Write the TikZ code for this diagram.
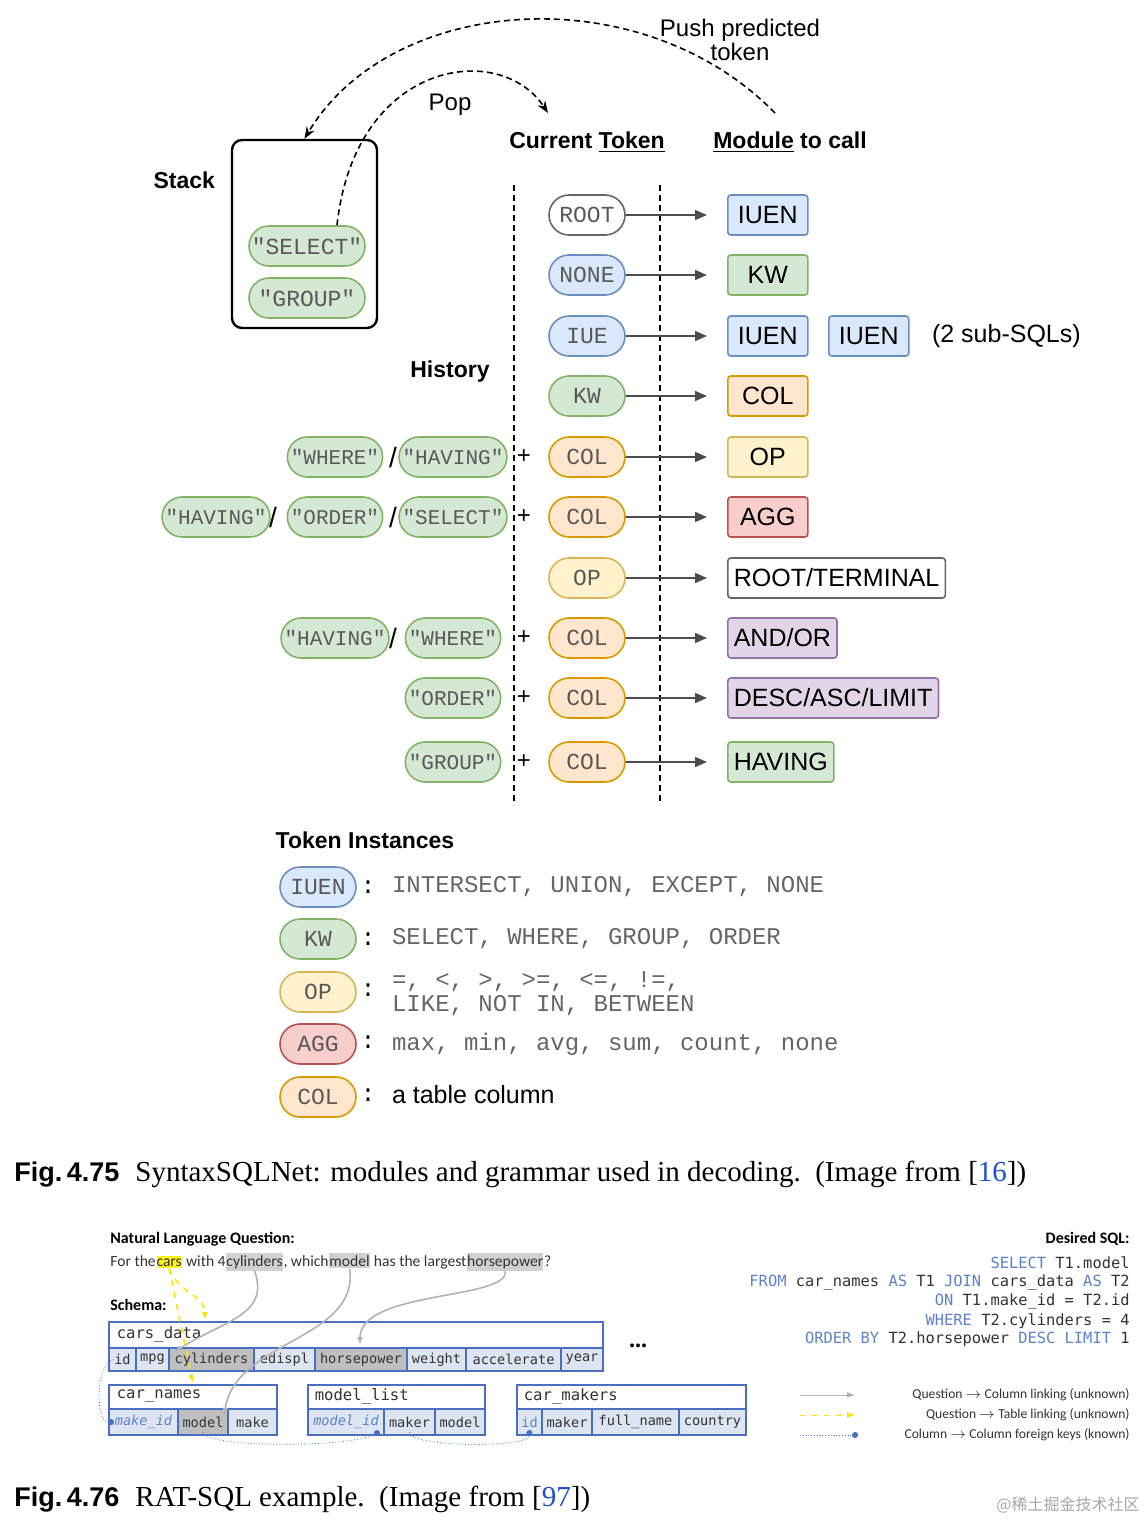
\documentclass[tikz,border=0pt]{standalone}
\usepackage{fontspec}
\setmainfont{Liberation Serif}
\setsansfont{Liberation Sans}
\setmonofont{Liberation Mono}
\newfontfamily\calfont{Carlito}
\newfontfamily\consfont{DejaVu Sans Mono}
\newfontfamily\cjkfont{Noto Sans CJK SC}
\usetikzlibrary{arrows.meta,shapes.misc}
\definecolor{gfill}{HTML}{D5E8D4}\definecolor{gdraw}{HTML}{82B366}
\definecolor{bfill}{HTML}{DAE8FC}\definecolor{bdraw}{HTML}{6C8EBF}
\definecolor{ofill}{HTML}{FFE6CC}\definecolor{odraw}{HTML}{D79B00}
\definecolor{yfill}{HTML}{FFF2CC}\definecolor{ydraw}{HTML}{D6B656}
\definecolor{rfill}{HTML}{F8CECC}\definecolor{rdraw}{HTML}{B85450}
\definecolor{pfill}{HTML}{E1D5E7}\definecolor{pdraw}{HTML}{9673A6}
\definecolor{cellblue}{HTML}{DDE5F3}\definecolor{tabdraw}{HTML}{4A6FBF}
\definecolor{sqlkw}{HTML}{5B82C9}\definecolor{refblue}{HTML}{1F4FD0}
\newcommand{\fs}[1]{\fontsize{#1}{#1}\selectfont}
\newcommand{\kwd}[1]{\textcolor{sqlkw}{#1}}

\begin{document}
\begin{tikzpicture}[
      x=0.5pt, y=-0.5pt,
      pill/.style={rounded rectangle,draw,thick,minimum height=20pt,minimum width=40pt,inner xsep=1pt,font=\ttfamily\fs{11.5},text=black!65},
      hist/.style={pill,fill=gfill,draw=gdraw,minimum width=47pt,font=\ttfamily\fs{10.5}},
      module/.style={draw,thick,rounded corners=1.5pt,minimum height=20pt,minimum width=40pt,inner xsep=3pt,anchor=west,font=\sffamily\fs{12.5}},
      heading/.style={font=\sffamily\bfseries\fs{11.5}},
      trans/.style={thick,draw=black!70,-{Triangle[length=6pt,width=5pt]},shorten >=10pt},
      flow/.style={thick,densely dashed,-{Stealth[length=6pt]}},
      cell/.style={draw=tabdraw,thick,fill=cellblue},
      ctext/.style={font=\consfont\fs{6.8},text=black!80,inner sep=0pt},
      link/.style={thick,draw=black!30,-{Latex[length=4pt]}},
      tlink/.style={thick,draw=yellow!85!orange,dashed,-{Latex[length=4pt]}},
      fk/.style={draw=tabdraw,densely dotted,-{Circle[length=3pt]}}
    ]
    \useasboundingbox (0,0) rectangle (1146,1522);
    % Draw the stack.
    \node[draw,very thick,rounded corners=5pt,minimum width=72.5pt,minimum height=94pt] (stack) at (304.5,234) {};
    \node[heading,anchor=east] (stacklbl) at (222,180) {Stack};
    \node[pill,hist,minimum width=60pt,font=\ttfamily\fs{11.5}] (sel) at (307,246) {"SELECT"};
    \node[pill,hist,minimum width=60pt,font=\ttfamily\fs{11.5}] (grp) at (307,298) {"GROUP"};
    % Draw the push and pop arcs.
    \coordinate (pushstart) at (775,113);
    \coordinate (popend) at (548,113);
    \draw[flow] (pushstart) .. controls (640,-25) and (390,-5) .. (stack.north);
    \draw[flow] ([xshift=15pt]sel.north) .. controls (355,60) and (500,40) .. (popend);
    \node[font=\sffamily\fs{12},align=center] (pushlbl) at (740,40) {Push predicted\\token};
    \node[font=\sffamily\fs{12}] (poplbl) at (450,105) {Pop};
    % Draw the headings and separators.
    \node[heading] (curlbl) at (587,142) {Current \underline{Token}};
    \node[heading] (modlbl) at (790,142) {\underline{Module} to call};
    \node[heading] (histlbl) at (450,372) {History};
    \coordinate (sepa1) at (514,185); \coordinate (sepa2) at (514,805);
    \coordinate (sepb1) at (660,185); \coordinate (sepb2) at (660,805);
    \draw[thick,densely dashed] (sepa1) -- (sepa2);
    \draw[thick,densely dashed] (sepb1) -- (sepb2);
    % Draw the current tokens.
    \node[pill,draw=black!60] (c1) at (587,215) {ROOT};
    \node[pill,fill=bfill,draw=bdraw] (c2) at (587,275) {NONE};
    \node[pill,fill=bfill,draw=bdraw] (c3) at (587,336) {IUE};
    \node[pill,fill=gfill,draw=gdraw] (c4) at (587,396) {KW};
    \node[pill,fill=ofill,draw=odraw] (c5) at (587,457) {COL};
    \node[pill,fill=ofill,draw=odraw] (c6) at (587,517) {COL};
    \node[pill,fill=yfill,draw=ydraw] (c7) at (587,578) {OP};
    \node[pill,fill=ofill,draw=odraw] (c8) at (587,638) {COL};
    \node[pill,fill=ofill,draw=odraw] (c9) at (587,698) {COL};
    \node[pill,fill=ofill,draw=odraw] (c10) at (587,762) {COL};
    % Draw the modules.
    \node[module,fill=bfill,draw=bdraw] (m1) at (727,215) {IUEN};
    \node[module,fill=gfill,draw=gdraw] (m2) at (727,275) {KW};
    \node[module,fill=bfill,draw=bdraw] (m3) at (727,336) {IUEN};
    \node[module,fill=bfill,draw=bdraw] (m3b) at (828,336) {IUEN};
    \node[font=\sffamily\fs{12.5},anchor=west] (subsql) at (925,336) {(2 sub-SQLs)};
    \node[module,fill=ofill,draw=odraw] (m4) at (727,396) {COL};
    \node[module,fill=yfill,draw=ydraw] (m5) at (727,457) {OP};
    \node[module,fill=rfill,draw=rdraw] (m6) at (727,517) {AGG};
    \node[module,fill=white,draw=black!60] (m7) at (727,578) {ROOT/TERMINAL};
    \node[module,fill=pfill,draw=pdraw] (m8) at (727,638) {AND/OR};
    \node[module,fill=pfill,draw=pdraw] (m9) at (727,698) {DESC/ASC/LIMIT};
    \node[module,fill=gfill,draw=gdraw] (m10) at (727,762) {HAVING};
    \foreach \i in {1,...,10}
      \draw[trans] (c\i) -- (m\i);
    % Draw the history tokens.
    \node[hist] (h5a) at (335,457) {"WHERE"};
    \node[hist] (h5b) at (453,457) {"HAVING"};
    \node[hist] (h6a) at (216,517) {"HAVING"};
    \node[hist] (h6b) at (335,517) {"ORDER"};
    \node[hist] (h6c) at (453,517) {"SELECT"};
    \node[hist] (h8a) at (335,638) {"HAVING"};
    \node[hist] (h8b) at (453,638) {"WHERE"};
    \node[hist] (h9) at (453,698) {"ORDER"};
    \node[hist] (h10) at (453,762) {"GROUP"};
    \foreach \n/\x/\y in {s1/393/457,s2/273/517,s3/393/517,s4/393/638}
      \node[font=\sffamily\fs{14}] (\n) at (\x,\y) {/};
    \foreach \y [count=\i] in {457,517,638,698,762}
      \node[font=\sffamily\fs{12}] (plus\i) at (524,\y) {+};
    % Draw the token instances.
    \node[heading] (instlbl) at (365,840) {Token Instances};
    \node[pill,fill=bfill,draw=bdraw] (t1) at (318,887) {IUEN};
    \node[pill,fill=gfill,draw=gdraw] (t2) at (318,939) {KW};
    \node[pill,fill=yfill,draw=ydraw] (t3) at (318,992) {OP};
    \node[pill,fill=rfill,draw=rdraw] (t4) at (318,1044) {AGG};
    \node[pill,fill=ofill,draw=odraw] (t5) at (318,1097) {COL};
    \foreach \i in {1,...,5}
      \node[font=\ttfamily\fs{12}] (col\i) at (368,\ifcase\i\or887\or939\or990\or1042\or1095\fi) {:};
    \node[anchor=west,font=\ttfamily\fs{12},text=black!60] (d1) at (385,887) {INTERSECT, UNION, EXCEPT, NONE};
    \node[anchor=west,font=\ttfamily\fs{12},text=black!60] (d2) at (385,939) {SELECT, WHERE, GROUP, ORDER};
    \node[anchor=west,font=\ttfamily\fs{12},text=black!60,align=left] (d3) at (385,994) {=, <, >, >=, <=, !=,\\LIKE, NOT IN, BETWEEN};
    \node[anchor=west,font=\ttfamily\fs{12},text=black!60] (d4) at (385,1044) {max, min, avg, sum, count, none};
    \node[anchor=west,font=\sffamily\fs{12.5}] (d5) at (385,1095) {a table column};
    % Draw the first caption.
    \node[anchor=west,inner sep=0pt] (cap1) at (14,1174) {{\sffamily\bfseries\fs{13.5}Fig.\,4.75}\hspace{8pt}{\fs{14.5}SyntaxSQLNet: modules and grammar used in decoding.\ \ (Image from [\textcolor{refblue}{16}])}};
    % Draw the question.
    \node[anchor=west,inner sep=0pt,font=\calfont\bfseries\fs{8}] (nlq) at (110,1239) {Natural Language Question:};
    \begin{scope}[every node/.style={inner xsep=0pt,inner ysep=1pt,anchor=base west,font=\calfont\fs{7.8},text=black!80}]
      \node (q1) at (110,1266) {For the\ };
      \node[fill=yellow!90] (wcars) at (q1.base east) {cars};
      \node (q2) at (wcars.base east) {\ with 4\ };
      \node[fill=black!18] (wcyl) at (q2.base east) {cylinders};
      \node (q3) at (wcyl.base east) {, which\ };
      \node[fill=black!18] (wmodel) at (q3.base east) {model};
      \node (q4) at (wmodel.base east) {\ has the largest\ };
      \node[fill=black!18] (whp) at (q4.base east) {horsepower};
      \node (q5) at (whp.base east) {?};
    \end{scope}
    \node[anchor=west,inner sep=0pt,font=\calfont\bfseries\fs{8}] (schema) at (110,1305) {Schema:};
    % Draw the tables.
    \draw[cell,fill=white] (109,1322) rectangle (603,1348) node[ctext,font=\consfont\fs{7.8},anchor=west] (cdhead) at (116,1334) {cars\_data};
    \foreach \name/\lbl/\xa/\xb/\f in {cdid/id/109/136/cellblue,cdmpg/mpg/136/169/cellblue,cdcyl/cylinders/169/254/black!25,cded/edispl/254/315/cellblue,cdhp/horsepower/315/407/black!25,cdwt/weight/407/466/cellblue,cdacc/accelerate/466/561/cellblue,cdyr/year/561/603/cellblue}
      \draw[cell,fill=\f] (\xa,1348) rectangle (\xb,1371) node[ctext,midway] (\name) {\lbl};
    \node[font=\bfseries\fs{12}] (dots) at (638,1346) {...};
    \draw[cell,fill=white] (109,1385) rectangle (277,1409) node[ctext,font=\consfont\fs{7.8},anchor=west] (cnhead) at (116,1396) {car\_names};
    \foreach \name/\lbl/\xa/\xb/\f in {cnmk/\textit{\textcolor{sqlkw}{make\_id}}/109/178/cellblue,cnmodel/model/178/228/black!25,cnmake/make/228/277/cellblue}
      \draw[cell,fill=\f] (\xa,1409) rectangle (\xb,1435) node[ctext,midway] (\name) {\lbl};
    \draw[cell,fill=white] (308,1385) rectangle (485,1409) node[ctext,font=\consfont\fs{7.8},anchor=west] (mlhead) at (314,1396) {model\_list};
    \foreach \name/\lbl/\xa/\xb in {mlid/\textit{\textcolor{sqlkw}{model\_id}}/308/384,mlmaker/maker/384/435,mlmodel/model/435/485}
      \draw[cell] (\xa,1409) rectangle (\xb,1435) node[ctext,midway] (\name) {\lbl};
    \draw[cell,fill=white] (517,1385) rectangle (746,1409) node[ctext,font=\consfont\fs{7.8},anchor=west] (cmhead) at (523,1396) {car\_makers};
    \foreach \name/\lbl/\xa/\xb in {cmid/\textcolor{sqlkw}{id}/517/542,cmmaker/maker/542/592,cmfull/full\_name/592/679,cmcountry/country/679/746}
      \draw[cell] (\xa,1409) rectangle (\xb,1435) node[ctext,midway] (\name) {\lbl};
    % Draw the links.
    \draw[link] (wcyl.south) .. controls (270,1315) and (225,1320) .. (cdcyl.north west);
    \draw[link] (wmodel.south) .. controls (360,1340) and (235,1340) .. (cnmodel.north east);
    \draw[link] (whp.south) .. controls (510,1300) and (360,1290) .. (360,1345);
    \draw[tlink] (wcars.south) .. controls (180,1295) and (205,1295) .. (205,1320);
    \draw[tlink] (wcars.south) -- (193,1383);
    \draw[fk] (cdid.west) .. controls (95,1365) and (95,1422) .. (cnmk.west);
    \draw[fk] ([yshift=-2pt]cnmodel.south) .. controls (205,1448) and (350,1448) .. ([yshift=-1pt]mlid.south east);
    \draw[fk] ([yshift=-2pt]mlmaker.south) .. controls (410,1448) and (529,1448) .. ([yshift=-1pt]cmid.south);
    % Draw the desired SQL.
    \node[anchor=east,inner sep=0pt,font=\calfont\bfseries\fs{8}] (sqlhead) at (1130,1239) {Desired SQL:};
    \node[anchor=north east,inner sep=0pt,align=right,font=\consfont\fs{7.7},text=black!80] (sql) at (1130,1256) {\kwd{SELECT} T1.model\\[1.5pt]\kwd{FROM} car\_names \kwd{AS} T1 \kwd{JOIN} cars\_data \kwd{AS} T2\\[1.5pt]\kwd{ON} T1.make\_id = T2.id\\[1.5pt]\kwd{WHERE} T2.cylinders = 4\\[1.5pt]\kwd{ORDER BY} T2.horsepower \kwd{DESC LIMIT} 1};
    % Draw the legend.
    \coordinate (la1) at (800,1395); \coordinate (lb1) at (855,1395);
    \coordinate (la2) at (800,1415); \coordinate (lb2) at (855,1415);
    \coordinate (la3) at (800,1435); \coordinate (lb3) at (858,1435);
    \draw[link,thin] (la1) -- (lb1);
    \draw[tlink,thin] (la2) -- (lb2);
    \draw[fk] (la3) -- (lb3);
    \foreach \y/\t [count=\i] in {1395/Question $\to$ Column linking (unknown),1415/Question $\to$ Table linking (unknown),1435/Column $\to$ Column foreign keys (known)}
      \node[anchor=east,inner sep=0pt,font=\calfont\fs{6.8},text=black!80] (leg\i) at (1130,\y) {\t};
    % Draw the second caption.
    \node[anchor=west,inner sep=0pt] (cap2) at (14,1499) {{\sffamily\bfseries\fs{13.5}Fig.\,4.76}\hspace{8pt}{\fs{14.5}RAT-SQL example.\ \ (Image from [\textcolor{refblue}{97}])}};
    \node[anchor=east,inner sep=0pt,font=\cjkfont\fs{8},text=black!35] (wm) at (1140,1505) {@稀土掘金技术社区};
\end{tikzpicture}
\end{document}
